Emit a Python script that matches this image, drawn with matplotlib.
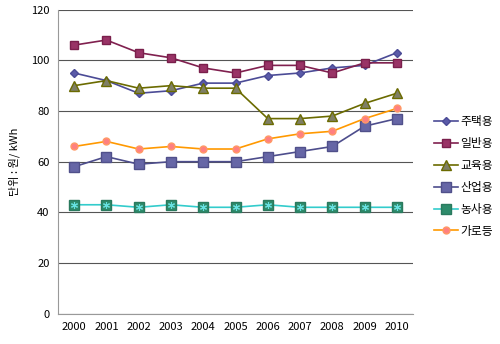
import matplotlib
matplotlib.use('Agg')
from matplotlib import pyplot as plt

plt.rcParams['font.family'] = ['Noto Sans CJK KR', 'DejaVu Sans']

years = ['2000', '2001', '2002', '2003', '2004', '2005', '2006', '2007', '2008', '2009', '2010']
housing = [95, 92, 87, 88, 91, 91, 94, 95, 97, 98, 103]       # 주택용
general = [106, 108, 103, 101, 97, 95, 98, 98, 95, 99, 99]    # 일반용
education = [90, 92, 89, 90, 89, 89, 77, 77, 78, 83, 87]      # 교육용
industry = [58, 62, 59, 60, 60, 60, 62, 64, 66, 74, 77]       # 산업용
farming = [43, 43, 42, 43, 42, 42, 43, 42, 42, 42, 42]        # 농사용
street = [66, 68, 65, 66, 65, 65, 69, 71, 72, 77, 81]         # 가로등
labels = ['주택용', '일반용', '교육용', '산업용', '농사용', '가로등']

fig = plt.figure(figsize=(5, 3.44), dpi=100)
ax = fig.add_axes([0.116, 0.088, 0.71, 0.884])
x = range(len(years))

ax.plot(x, housing, color='#4b4b96', lw=1.2, marker='D', ms=4.5,
        mfc='#5a5aa8', mec='#4b4b96', label=labels[0])
ax.plot(x, general, color='#80204f', lw=1.2, marker='s', ms=6,
        mfc='#993366', mec='#7a1f4c', label=labels[1])
ax.plot(x, education, color='#6b6b00', lw=1.2, marker='^', ms=6.5,
        mfc='#7f7f66', mec='#6b6b00', label=labels[2])
ax.plot(x, industry, color='#4d4d8c', lw=1.2, marker='s', ms=7.5,
        mfc='#6666a6', mec='#50508a', label=labels[3])
ax.plot(x, farming, color='#33cccc', lw=1.2, marker='s', ms=7,
        mfc='#2e8b6b', mec='#2a7a5e', label=labels[4])
ax.plot(x, farming, ls='none', marker=(6, 2, 0), ms=5, mec='#66e0e0', mew=0.8)
ax.plot(x, street, color='#ff9900', lw=1.2, marker='o', ms=5,
        mfc='#ff8080', mec='#ff9966', label=labels[5])

ax.set_xlim(-0.5, 10.5)
ax.set_ylim(0, 120)
ax.set_yticks(range(0, 121, 20))
ax.set_xticks(list(x))
ax.set_xticklabels(years)
ax.tick_params(length=0, labelsize=8, pad=6)
ax.yaxis.grid(True, color='#555555', lw=0.8)
ax.set_axisbelow(True)
for s in ['top', 'right']:
    ax.spines[s].set_visible(False)
for s in ['left', 'bottom']:
    ax.spines[s].set_color('#999999')

ax.set_ylabel('단위 : 원/ kWh', fontsize=8, labelpad=8)

fig.legend(loc='upper left', bbox_to_anchor=(0.868, 0.665), frameon=False,
           fontsize=8.5, handlelength=2.0, labelspacing=0.75,
           handletextpad=0.2, borderaxespad=0, borderpad=0)

plt.savefig('out.png', dpi=100)
